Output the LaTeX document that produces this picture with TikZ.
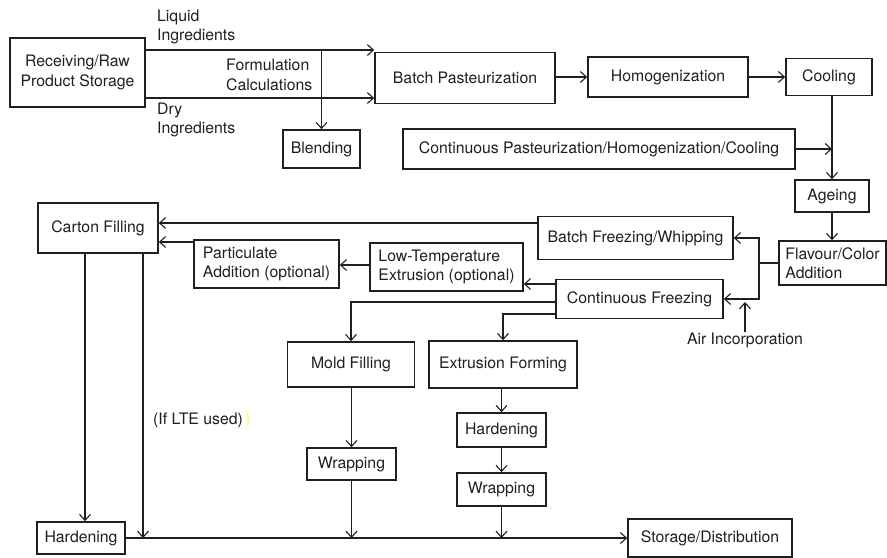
\documentclass[tikz,border=0pt]{standalone}
\usepackage{fontspec}
\setmainfont{TeX Gyre Heros}
\usetikzlibrary{arrows.meta}

\begin{document}
\begin{tikzpicture}[x=1pt,y=-1pt,
  every node/.style={font=\fontsize{15.8}{19.5}\selectfont, text=black!88},
  box/.style 2 args={draw=black!88, line width=1.7pt, minimum width=#1, minimum height=#2, inner sep=0pt, align=center},
  lbl/.style={inner sep=0pt, align=left},
  conn/.style={draw=black!88, line width=1.1pt, -{Straight Barb[length=6pt,width=11pt]}},
  line/.style={draw=black!88, line width=1.1pt}]
\path[fill=white] (0,0) rectangle (887,557);
\node[box={135}{69}] (recv) at (77.5,72.5) {Receiving/Raw\\Product Storage};
\node[box={180}{51}] (bpast) at (465,78) {Batch Pasteurization};
\node[box={160}{40}] (homog) at (668,77) {Homogenization};
\node[box={86}{37}] (cool) at (829,77) {Cooling};
\node[box={77}{38}] (blend) at (321.5,149) {Blending};
\node[box={392}{40}] (cpast) at (599,149) {Continuous Pasteurization/Homogenization/Cooling};
\node[box={74}{32}] (age) at (832,196) {Ageing};
\node[box={107}{44}, align=left] (flav) at (832.5,263) {Flavour/Color\\Addition};
\node[box={195}{43}] (bfreeze) at (635.5,238) {Batch Freezing/Whipping};
\node[box={167}{39}] (cfreeze) at (639.5,299) {Continuous Freezing};
\node[box={153}{48}, align=left] (lte) at (446.5,267) {Low-Temperature\\Extrusion (optional)};
\node[box={145}{48}, align=left] (part) at (266.5,264) {Particulate\\Addition (optional)};
\node[box={120}{50}] (carton) at (98,228) {Carton Filling};
\node[box={127}{45}] (mold) at (351,364.5) {Mold Filling};
\node[box={148}{47}] (extr) at (503,364.5) {Extrusion Forming};
\node[box={89}{34}] (hardb) at (501.5,430) {Hardening};
\node[box={89}{33}] (wrapb) at (501.5,489.5) {Wrapping};
\node[box={89}{32}] (wrapa) at (351.5,464) {Wrapping};
\node[box={88}{32}] (harda) at (81,538) {Hardening};
\node[box={164}{38}] (store) at (710,538) {Storage/Distribution};
\node[lbl, anchor=west] (liq) at (157,27) {Liquid\\Ingredients};
\node[lbl, anchor=west] (dry) at (157,120) {Dry\\Ingredients};
\node[lbl, anchor=west] (formcalc) at (226,75) {Formulation\\Calculations};
\node[lbl] (air) at (745,340) {Air Incorporation};
\node[lbl, anchor=west] (ifLTE) at (153,420) {(If LTE used)};
\node[lbl, anchor=west, text=yellow!50, font=\fontsize{19}{20}\selectfont] (paren) at ([xshift=1pt]ifLTE.east) {)};
\coordinate (liqy) at (0,50);
\coordinate (dryy) at (0,98);
\coordinate (splx) at (759,263);
\coordinate (airtip) at (745,302);
\coordinate (ltey) at (0,284);
\coordinate (party) at (0,265);
\coordinate (bfy) at (0,223);
\coordinate (pay) at (0,242);
\coordinate (cfa) at (0,302);
\coordinate (cfb) at (0,314);
\coordinate (c1x) at (85,0);
\coordinate (c2x) at (143,0);
\draw[conn] (recv.east |- liqy) -- (bpast.west |- liqy);
\draw[conn] (recv.east |- dryy) -- (bpast.west |- dryy);
\draw[conn] (blend.north |- liqy) -- (blend.north);
\draw[conn] (bpast.east |- homog.west) -- (homog.west);
\draw[conn] (homog.east) -- (cool.west);
\draw[conn] (age.north |- cool.south) -- (age.north);
\draw[conn] (cpast.east) -- (age.north |- cpast.east);
\draw[conn] (age.south) -- (age.south |- flav.north);
\draw[line] (flav.west |- splx) -- (splx);
\draw[conn] (splx) |- (bfreeze.east);
\draw[conn] (splx) |- (cfreeze.east);
\draw[conn] (air.north) -- (airtip);
\draw[conn] (cfreeze.west |- ltey) -- (lte.east |- ltey);
\draw[conn] (lte.west |- party) -- (part.east |- party);
\draw[conn] (bfreeze.west |- bfy) -- (carton.east |- bfy);
\draw[conn] (part.west |- pay) -- (carton.east |- pay);
\draw[conn] (cfreeze.west |- cfa) -| (mold.north);
\draw[conn] (cfreeze.west |- cfb) -| (extr.north);
\draw[conn] (carton.south -| c1x) -- (harda.north -| c1x);
\draw[conn] (carton.south -| c2x) -- (c2x |- harda.east);
\draw[conn] (harda.east) -- (store.west);
\draw[conn] (wrapa.north |- mold.south) -- (wrapa.north);
\draw[conn] (wrapa.south) -- (wrapa.south |- harda.east);
\draw[conn] (hardb.north |- extr.south) -- (hardb.north);
\draw[conn] (hardb.south) -- (wrapb.north);
\draw[conn] (wrapb.south) -- (wrapb.south |- harda.east);
\end{tikzpicture}
\end{document}
